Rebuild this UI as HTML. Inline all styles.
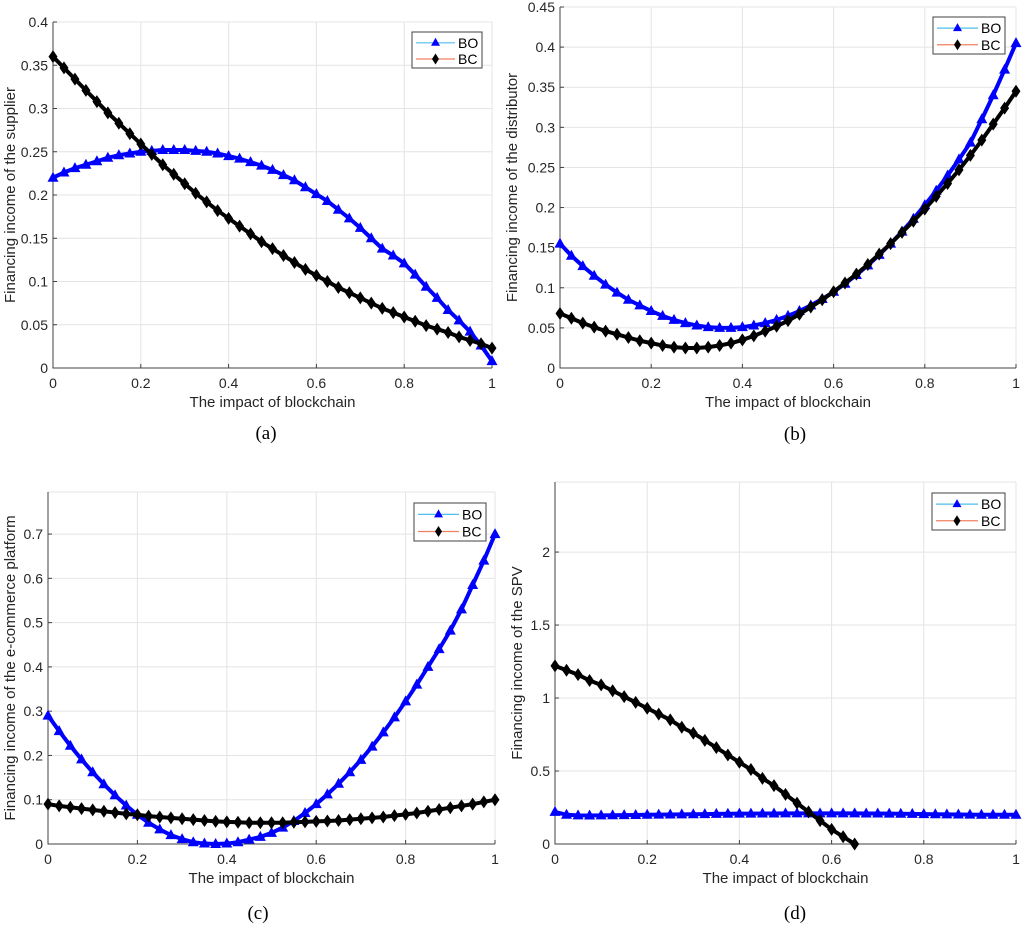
<!DOCTYPE html>
<html><head><meta charset="utf-8">
<style>
html,body{margin:0;padding:0;background:#fff;}
svg text{font-family:"Liberation Sans",sans-serif;}
</style></head>
<body>
<svg id="fig" width="1024" height="924" viewBox="0 0 1024 924" xmlns="http://www.w3.org/2000/svg"></svg>
<script>
const xs = [0,0.025,0.05,0.075,0.1,0.125,0.15,0.175,0.2,0.225,0.25,0.275,0.3,0.325,0.35,0.375,0.4,0.425,0.45,0.475,0.5,0.525,0.55,0.575,0.6,0.625,0.65,0.675,0.7,0.725,0.75,0.775,0.8,0.825,0.85,0.875,0.9,0.925,0.95,0.975,1];
const aBO = [.220,.226,.231,.235,.239,.243,.246,.248,.250,.251,.252,.252,.252,.251,.250,.248,.245,.242,.238,.234,.229,.223,.217,.209,.201,.193,.183,.173,.162,.150,.138,.130,.121,.108,.094,.081,.067,.055,.042,.026,.008];
const aBC = [.360,.347,.334,.321,.308,.295,.283,.271,.259,.247,.235,.224,.213,.202,.192,.182,.173,.164,.155,.146,.138,.130,.122,.114,.107,.100,.093,.087,.081,.075,.069,.064,.059,.054,.049,.045,.041,.036,.032,.028,.023];
const bBO = [.155,.140,.127,.115,.104,.094,.085,.078,.071,.065,.060,.056,.053,.051,.050,.050,.051,.053,.056,.060,.065,.071,.078,.086,.095,.105,.116,.128,.141,.155,.170,.186,.203,.221,.240,.260,.281,.310,.340,.372,.405];
const bBC = [.068,.062,.056,.051,.046,.042,.038,.034,.031,.028,.026,.025,.025,.026,.028,.031,.035,.040,.046,.052,.059,.067,.076,.085,.095,.106,.117,.129,.142,.155,.169,.183,.198,.214,.230,.247,.265,.284,.304,.324,.345];
const cBO = [.290,.255,.222,.191,.162,.135,.110,.087,.066,.048,.033,.020,.011,.004,.001,.000,.001,.004,.010,.016,.025,.037,.052,.070,.090,.112,.136,.162,.190,.220,.252,.286,.322,.360,.400,.440,.482,.530,.585,.640,.700];
const cBC = [.090,.086,.083,.080,.077,.074,.071,.068,.066,.063,.061,.059,.057,.055,.053,.051,.050,.049,.048,.048,.048,.048,.049,.050,.051,.052,.053,.055,.057,.059,.061,.064,.067,.070,.074,.078,.082,.086,.090,.095,.100];
const dBO = [.22,.200,.196,.195,.196,.197,.198,.199,.200,.201,.202,.203,.204,.205,.206,.207,.208,.208,.209,.209,.210,.210,.210,.210,.210,.210,.210,.209,.209,.208,.207,.206,.205,.204,.203,.202,.201,.200,.200,.200,.200];
const dBC = [1.22,1.19,1.16,1.12,1.09,1.05,1.01,.97,.93,.89,.85,.80,.76,.71,.66,.61,.56,.51,.45,.40,.34,.28,.22,.16,.10,.05,.00,null,null,null,null,null,null,null,null,null,null,null,null,null,null];
const xTicks = [0,0.2,0.4,0.6,0.8,1];
const aTicks = [0,0.05,0.1,0.15,0.2,0.25,0.3,0.35,0.4];
const bTicks = [0,0.05,0.1,0.15,0.2,0.25,0.3,0.35,0.4,0.45];
const cTicks = [0,0.1,0.2,0.3,0.4,0.5,0.6,0.7];
const dTicks = [0,0.5,1,1.5,2];

const NS="http://www.w3.org/2000/svg";
const svg=document.getElementById('fig');
function mk(tag,attrs,parent){const e=document.createElementNS(NS,tag);for(const k in attrs)e.setAttribute(k,attrs[k]);(parent||svg).appendChild(e);return e;}

const panels=[
 {id:'a',L:53,R:492,T:22,B:368,ymax:0.4,ticks:aTicks,bo:aBO,bc:aBC,ylab:'Financing income of the supplier',ylx:10,leg:[412,32,70,36],cap:[266,432]},
 {id:'b',L:560,R:1016,T:7,B:368,ymax:0.45,ticks:bTicks,bo:bBO,bc:bBC,ylab:'Financing income of the distributor',ylx:512,leg:[933,17,72,37],cap:[795,433]},
 {id:'c',L:48,R:495,T:492,B:844,ymax:0.795,ticks:cTicks,bo:cBO,bc:cBC,ylab:'Financing income of the e-commerce platform',ylx:10,leg:[414,503,72,38],cap:[258,912]},
 {id:'d',L:555,R:1016,T:482,B:844,ymax:2.48,ticks:dTicks,bo:dBO,bc:dBC,ylab:'Financing income of the SPV',ylx:517,leg:[932,493,73,37],cap:[795,912]}
];

panels.forEach(p=>{
 const g=mk('g',{});
 
 
 const sx=v=>p.L+v*(p.R-p.L);
 const sy=v=>p.B-v/p.ymax*(p.B-p.T);
 xTicks.forEach(t=>{const l=mk('line',{x1:sx(t),x2:sx(t),y1:p.T,y2:p.B,stroke:'#e4e4e4','stroke-width':1},g);
  });
 p.ticks.forEach(t=>{const l=mk('line',{x1:p.L,x2:p.R,y1:sy(t),y2:sy(t),stroke:'#e4e4e4','stroke-width':1},g);
  });
 mk('line',{x1:p.L,x2:p.R,y1:p.T,y2:p.T,stroke:'#e4e4e4'},g);
 const ax=mk('path',{d:`M${p.L},${p.T}V${p.B}H${p.R}`,stroke:'#404040',fill:'none','stroke-width':1},g);
 
 xTicks.forEach(t=>{
  mk('line',{x1:sx(t),x2:sx(t),y1:p.B,y2:p.B-4,stroke:'#404040'},g);
  const tx=mk('text',{x:sx(t),y:p.B+20,'text-anchor':'middle','font-size':14,fill:'#262626'},g);
  tx.textContent=String(t);
  
 });
 p.ticks.forEach(t=>{
  mk('line',{x1:p.L,x2:p.L+4,y1:sy(t),y2:sy(t),stroke:'#404040'},g);
  const tx=mk('text',{x:p.L-5,y:sy(t)+5,'text-anchor':'end','font-size':14,fill:'#262626'},g);
  tx.textContent=String(t);
  
 });
 const xl=mk('text',{x:(p.L+p.R)/2,y:p.B+39,'text-anchor':'middle','font-size':15,fill:'#262626'},g);
 xl.textContent='The impact of blockchain';
 
 const yl=mk('text',{x:0,y:0,'text-anchor':'middle','font-size':15,fill:'#262626',transform:`translate(${p.ylx+5},${(p.T+p.B)/2}) rotate(-90)`},g);
 yl.textContent=p.ylab;
 
 const cap=mk('text',{x:p.cap[0],y:p.cap[1]+7,'text-anchor':'middle','font-size':19,fill:'#000'},g);
 cap.setAttribute('style','font-family:"Liberation Serif",serif');
 cap.textContent='('+p.id+')';
 
 function series(vals,color,marker,name){
  const sg=mk('g',{},g);
  
  let d='';let started=false;
  vals.forEach((v,i)=>{if(v===null)return;d+=(started?'L':'M')+sx(xs[i])+','+sy(v);started=true;});
  mk('path',{d:d,stroke:color,fill:'none','stroke-width':4},sg);
  vals.forEach((v,i)=>{
   if(v===null)return;
   const x=sx(xs[i]),y=sy(v);
   let m;
   if(marker==='tri') m=mk('path',{d:`M${x},${y-6}L${x+5.5},${y+4}L${x-5.5},${y+4}Z`,fill:color},sg);
   else m=mk('path',{d:`M${x},${y-6.5}L${x+4.5},${y}L${x},${y+6.5}L${x-4.5},${y}Z`,fill:color},sg);
   
  });
 }
 series(p.bo,'#0000ff','tri','series-bo');
 series(p.bc,'#000000','dia','series-bc');
 const [lx,ly,lw,lh]=p.leg;
 const lg=mk('g',{},g);
 
 mk('rect',{x:lx,y:ly,width:lw,height:lh,fill:'#fff',stroke:'#404040','stroke-width':1},lg);
 const rows=[['BO','#4dbeee','tri','#0000ff'],['BC','#f08060','dia','#000']];
 rows.forEach((r,i)=>{
  const cy=ly+lh*0.3+i*lh*0.45;
  const e=mk('g',{},lg);
  
  mk('line',{x1:lx+4,x2:lx+lw-27,y1:cy,y2:cy,stroke:r[1],'stroke-width':1.2},e);
  const mx=lx+4+(lw-31)/2;
  if(r[2]==='tri') mk('path',{d:`M${mx},${cy-5}L${mx+4.5},${cy+3}L${mx-4.5},${cy+3}Z`,fill:r[3]},e);
  else mk('path',{d:`M${mx},${cy-5.5}L${mx+3.5},${cy}L${mx},${cy+5.5}L${mx-3.5},${cy}Z`,fill:r[3]},e);
  const t=mk('text',{x:lx+lw-24,y:cy+5,'font-size':14,fill:'#000'},e);
  t.textContent=r[0];
 });
});
</script>
</body></html>
